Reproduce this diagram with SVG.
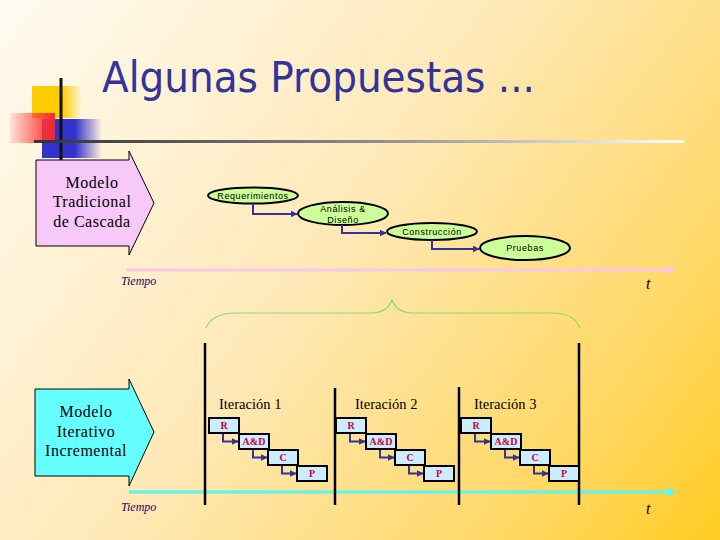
<svg xmlns="http://www.w3.org/2000/svg" width="720" height="540" viewBox="0 0 720 540">
<defs>
<linearGradient id="bg" x1="0" y1="0" x2="720" y2="540" gradientUnits="userSpaceOnUse">
<stop offset="0" stop-color="#FFFBF2"/>
<stop offset="0.45" stop-color="#FFE9B8"/>
<stop offset="0.8" stop-color="#FFD866"/>
<stop offset="1" stop-color="#FFCC22"/>
</linearGradient>
<linearGradient id="yel" x1="0" y1="0" x2="1" y2="0">
<stop offset="0" stop-color="#FFCC00"/>
<stop offset="0.6" stop-color="#FFCC00"/>
<stop offset="1" stop-color="#FFCC00" stop-opacity="0"/>
</linearGradient>
<linearGradient id="red" x1="0" y1="0" x2="1" y2="0">
<stop offset="0" stop-color="#FF3333" stop-opacity="0.1"/>
<stop offset="0.8" stop-color="#FF3333" stop-opacity="0.9"/>
<stop offset="1" stop-color="#FF2222"/>
</linearGradient>
<linearGradient id="blu" x1="0" y1="0" x2="1" y2="0">
<stop offset="0" stop-color="#3333CC"/>
<stop offset="0.55" stop-color="#3333CC"/>
<stop offset="1" stop-color="#3333CC" stop-opacity="0"/>
</linearGradient>
<linearGradient id="hl" x1="0" y1="0" x2="1" y2="0">
<stop offset="0" stop-color="#333333"/>
<stop offset="0.5" stop-color="#888888"/>
<stop offset="1" stop-color="#FFFFFF"/>
</linearGradient>
<marker id="ah" viewBox="0 0 10 10" refX="9" refY="5" markerWidth="3.5" markerHeight="3.5" orient="auto" markerUnits="strokeWidth">
<path d="M0,0 L10,5 L0,10 z" fill="#333399"/>
</marker>
<marker id="pk" viewBox="0 0 10 10" refX="5" refY="5" markerWidth="3" markerHeight="3" orient="auto" markerUnits="strokeWidth">
<path d="M0,0 L10,5 L0,10 z" fill="#F8C8E8"/>
</marker>
<marker id="cy" viewBox="0 0 10 10" refX="5" refY="5" markerWidth="3" markerHeight="3" orient="auto" markerUnits="strokeWidth">
<path d="M0,0 L10,5 L0,10 z" fill="#70F0E0"/>
</marker>
</defs>
<style>
.ell{fill:#CCFF99;stroke:#000;stroke-width:2}
.et{font-family:"Liberation Sans",Arial,sans-serif;font-size:9px;letter-spacing:0.6px;fill:#000;text-anchor:middle}
.con{fill:none;stroke:#333399;stroke-width:2;marker-end:url(#ah)}
.box{fill:#CCECFF;stroke:#000;stroke-width:2}
.bt{font-family:"Liberation Serif","Times New Roman",serif;font-size:10px;font-weight:bold;fill:#CC0033;text-anchor:middle}
.it{font-family:"Liberation Serif","Times New Roman",serif;font-size:14.5px;fill:#000}
.mt{font-family:"Liberation Serif","Times New Roman",serif;font-size:16px;letter-spacing:0.5px;fill:#000;text-anchor:middle}
.tm{font-family:"Liberation Serif","Times New Roman",serif;font-style:italic;font-size:12px;fill:#330055}
.tt{font-family:"Liberation Serif","Times New Roman",serif;font-style:italic;font-size:16px;fill:#000}
.vl{stroke:#000;stroke-width:2.5}
</style>
<rect x="0" y="0" width="720" height="540" fill="url(#bg)"/>
<g id="decor">
<rect x="32" y="86" width="50" height="32" fill="url(#yel)"/>
<rect x="42" y="119" width="60" height="39" fill="url(#blu)"/>
<rect x="10" y="113" width="45" height="30" fill="url(#red)"/>
<line x1="61" y1="78" x2="61" y2="160" stroke="#111" stroke-width="3"/>
<rect x="34" y="140" width="650" height="3" fill="url(#hl)"/>
</g>
<text id="title" x="102" y="92" font-family="DejaVu Sans,Verdana,sans-serif" font-size="42" fill="#333399" textLength="433" lengthAdjust="spacingAndGlyphs">Algunas Propuestas ...</text>
<g id="cascada">
<polygon points="36,160 129,160 129,151 154,203 129,255 129,246 36,246" fill="#F8C8F8" stroke="#000" stroke-width="1"/>
<text class="mt" x="92" y="188">Modelo</text>
<text class="mt" x="92" y="207">Tradicional</text>
<text class="mt" x="92" y="227">de Cascada</text>
</g>
<g id="requerimientos"><ellipse class="ell" cx="253" cy="195.5" rx="45" ry="8"/><text class="et" x="253" y="199">Requerimientos</text></g>
<g id="analisis"><ellipse class="ell" cx="343" cy="213.5" rx="45" ry="11.5"/><text class="et" x="343" y="212">Análisis &amp;</text><text class="et" x="343" y="223">Diseño</text></g>
<g id="construccion"><ellipse class="ell" cx="432" cy="231.5" rx="45" ry="8.5"/><text class="et" x="432" y="235">Construcción</text></g>
<g id="pruebas"><ellipse class="ell" cx="525" cy="248" rx="45" ry="12"/><text class="et" x="525" y="251">Pruebas</text></g>
<g id="timeline1">
<line x1="126" y1="270" x2="672" y2="270" stroke="#F8C8E8" stroke-width="3" marker-end="url(#pk)"/>
<text class="tm" x="121" y="285">Tiempo</text>
<text class="tt" x="646" y="289">t</text>
</g>
<path id="brace" d="M206,328 C210,318 220,313 236,313 L372,313 C384,313 390,306 392,300 C394,306 400,313 412,313 L552,313 C568,313 576,318 580,328" fill="none" stroke="#88DD66" stroke-width="1.2"/>
<g id="iterativo">
<polygon points="35,389 129,389 129,379 154,432 129,486 129,476 35,476" fill="#66FFFF" stroke="#000" stroke-width="1"/>
<text class="mt" x="86" y="417">Modelo</text>
<text class="mt" x="86" y="437">Iterativo</text>
<text class="mt" x="86" y="456">Incremental</text>
</g>
<g id="timeline2">
<line x1="129" y1="492" x2="672" y2="492" stroke="#70F0E0" stroke-width="3.5" marker-end="url(#cy)"/>
<text class="tm" x="121" y="511">Tiempo</text>
<text class="tt" x="646" y="514">t</text>
</g>
<g id="separators">
<line class="vl" x1="205" y1="343" x2="205" y2="505"/>
<line class="vl" x1="335" y1="388" x2="335" y2="505"/>
<line class="vl" x1="459" y1="387" x2="459" y2="505"/>
<line class="vl" x1="579" y1="343" x2="579" y2="505"/>
</g>
<g id="connectors">
<path class="con" d="M253,203.5 V214 H297"/>
<path class="con" d="M342,225 V233 H386"/>
<path class="con" d="M432,240 V249 H479"/>
<path class="con" d="M223,433 V441.5 H238"/>
<path class="con" d="M253,449 V457.5 H267"/>
<path class="con" d="M282,465 V473.5 H296"/>
<path class="con" d="M350,433 V441.5 H365"/>
<path class="con" d="M380,449 V457.5 H394"/>
<path class="con" d="M409,465 V473.5 H423"/>
<path class="con" d="M475,433 V441.5 H490"/>
<path class="con" d="M505,449 V457.5 H519"/>
<path class="con" d="M534,465 V473.5 H548"/>
</g>
<g id="iteracion1">
<text class="it" x="219" y="409">Iteración 1</text>
<rect class="box" x="209" y="418" width="30" height="15"/><text class="bt" x="224" y="429">R</text>
<rect class="box" x="239" y="434" width="30" height="15"/><text class="bt" x="254" y="445">A&amp;D</text>
<rect class="box" x="268" y="450" width="30" height="15"/><text class="bt" x="283" y="461">C</text>
<rect class="box" x="297" y="466" width="30" height="15"/><text class="bt" x="312" y="477">P</text>
</g>
<g id="iteracion2">
<text class="it" x="355" y="409">Iteración 2</text>
<rect class="box" x="336" y="418" width="30" height="15"/><text class="bt" x="351" y="429">R</text>
<rect class="box" x="366" y="434" width="30" height="15"/><text class="bt" x="381" y="445">A&amp;D</text>
<rect class="box" x="395" y="450" width="30" height="15"/><text class="bt" x="410" y="461">C</text>
<rect class="box" x="424" y="466" width="30" height="15"/><text class="bt" x="439" y="477">P</text>
</g>
<g id="iteracion3">
<text class="it" x="474" y="409">Iteración 3</text>
<rect class="box" x="461" y="418" width="30" height="15"/><text class="bt" x="476" y="429">R</text>
<rect class="box" x="491" y="434" width="30" height="15"/><text class="bt" x="506" y="445">A&amp;D</text>
<rect class="box" x="520" y="450" width="30" height="15"/><text class="bt" x="535" y="461">C</text>
<rect class="box" x="549" y="466" width="30" height="15"/><text class="bt" x="564" y="477">P</text>
</g>
</svg>
